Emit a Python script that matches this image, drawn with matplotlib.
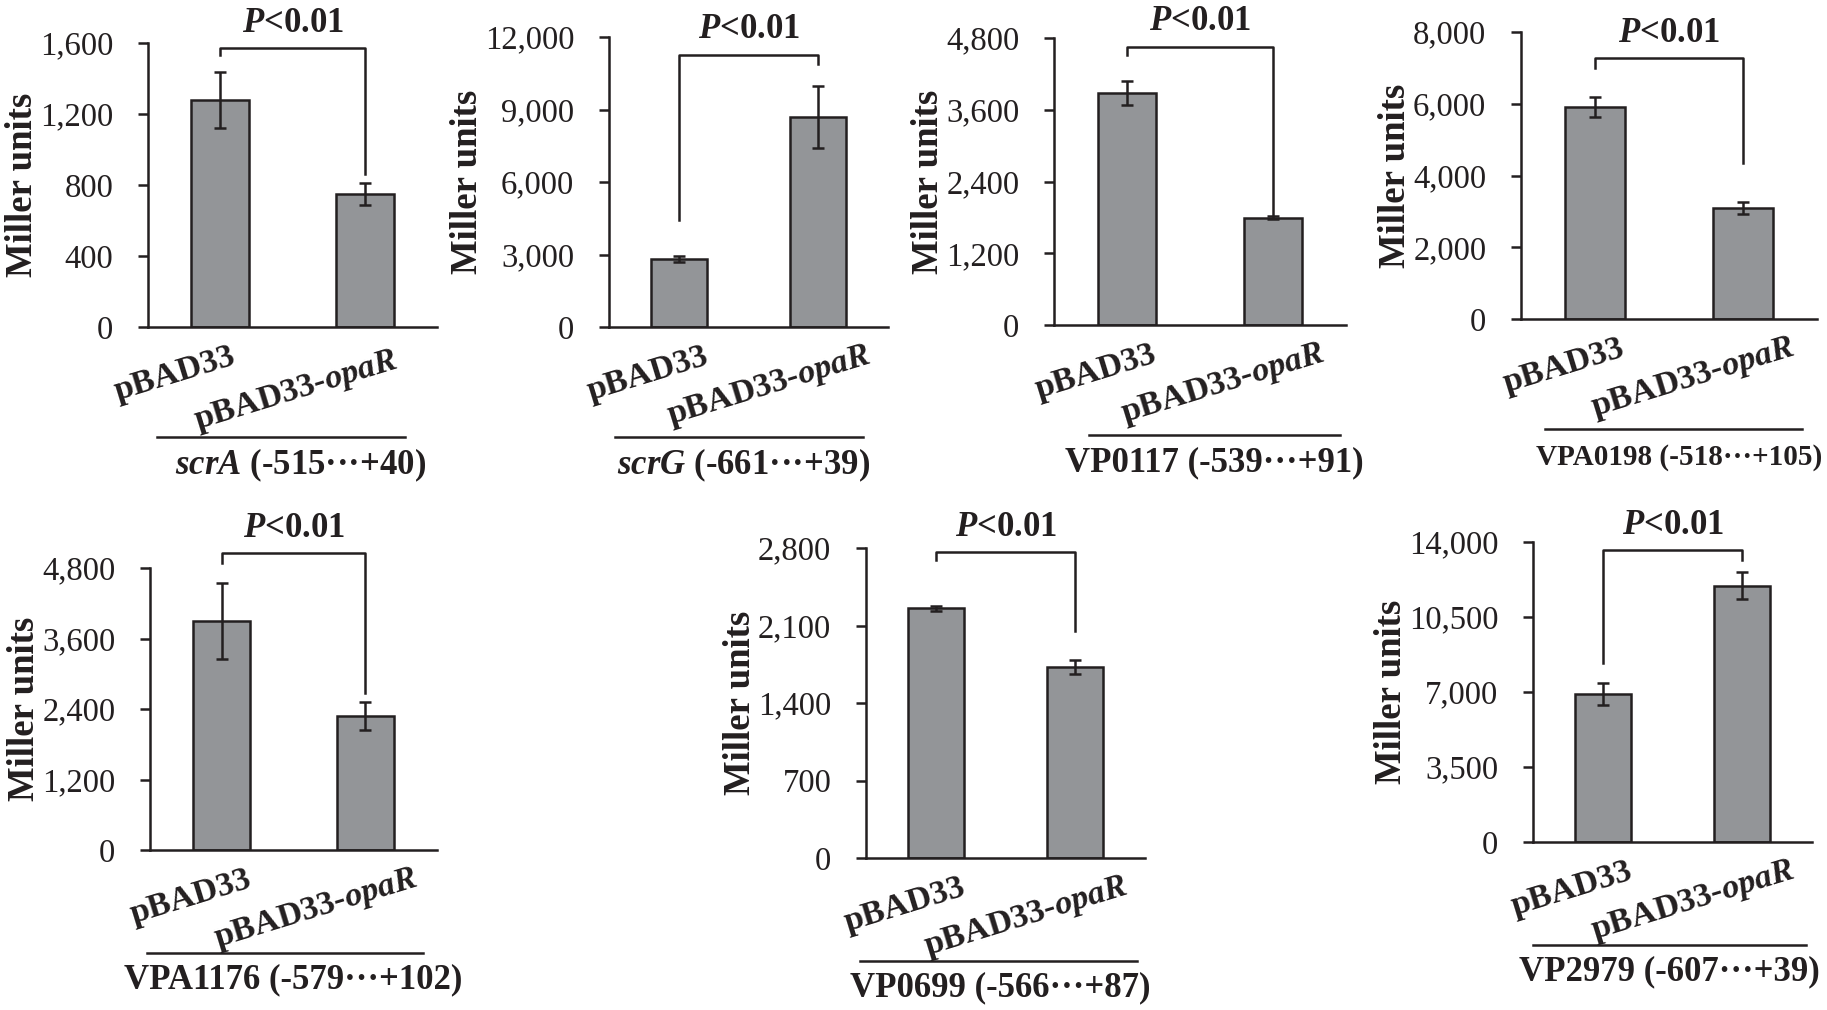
import numpy as np
import matplotlib.pyplot as plt
from matplotlib.ticker import FuncFormatter, MultipleLocator
from matplotlib.transforms import ScaledTranslation

plt.rcParams['font.family'] = ['Liberation Serif', 'DejaVu Serif']
plt.rcParams['mathtext.fontset'] = 'custom'
plt.rcParams['mathtext.it'] = 'Liberation Serif:italic:bold'
plt.rcParams['mathtext.rm'] = 'Liberation Serif:bold'
plt.rcParams['mathtext.bf'] = 'Liberation Serif:bold'

# ---- data ----
strains = ['pBAD33', r'pBAD33-$\mathit{opaR}$']
promoters = [r'$\mathit{scrA}$ (-515···+40)',
             r'$\mathit{scrG}$ (-661···+39)',
             'VP0117 (-539···+91)',
             'VPA0198 (-518···+105)',
             'VPA1176 (-579···+102)',
             'VP0699 (-566···+87)',
             'VP2979 (-607···+39)']

scrA_mean = [1279, 749]
scrA_err = [160, 60]
scrG_mean = [2814, 8690]
scrG_err = [130, 1270]
vp0117_mean = [3880, 1790]
vp0117_err = [200, 25]
vpa0198_mean = [5909, 3094]
vpa0198_err = [280, 170]
vpa1176_mean = [3898, 2281]
vpa1176_err = [650, 230]
vp0699_mean = [2254, 1727]
vp0699_err = [25, 65]
vp2979_mean = [6907, 11947]
vp2979_err = [530, 630]

y_max = [1600, 12000, 4800, 8000, 4800, 2800, 14000]
y_step = [400, 3000, 1200, 2000, 1200, 700, 3500]
p_text = r'$\mathit{P}$<0.01'

means = [scrA_mean, scrG_mean, vp0117_mean, vpa0198_mean,
         vpa1176_mean, vp0699_mean, vp2979_mean]
errs = [scrA_err, scrG_err, vp0117_err, vpa0198_err,
        vpa1176_err, vp0699_err, vp2979_err]

# ---- layout (pixels in the 1827x1010 canvas) ----
W, H = 1827, 1010
# left, top, right, bottom(zero line)
rects = [(148, 43, 437, 327), (609, 37, 888, 327), (1054, 38, 1346, 325),
         (1521, 32, 1817, 319), (150, 568, 437, 850), (866, 548, 1145, 858),
         (1533, 542, 1812, 842)]
# bracket: top, left end, right end (axes fraction)
brackets = [(0.982, 0.958, 0.539), (0.938, 0.369, 0.907), (0.969, 0.941, 0.382),
            (0.909, 0.875, 0.544), (1.053, 1.018, 0.557), (0.987, 0.961, 0.731),
            (0.973, 0.597, 0.940)]
# underline extent (axes fraction), promoter label shift (px) and size
underlines = [(0.03, 0.89), (0.02, 0.91), (0.12, 0.98), (0.08, 0.95),
              (-0.01, 0.95), (-0.02, 0.97), (0.0, 0.98)]
label_shift = [20, 5, 0, 6, 8, 2, 0]
label_size = [25, 25, 25, 21, 25, 25, 25]
# vertical drop (inches below zero line) of underline / label, per row
under_drop = [1.10, 1.03]
label_drop = [1.38, 1.30]
# rotated category label anchors (inches from bar centre / axis), per panel
tick_dx = [[0.10, 0.27]] + [[0.24, 0.46]] * 6
tick_dy = [[-0.14, -0.18]] + [[-0.14, -0.13]] * 6

INK = '#231f20'
BAR = '#939598'
LW = 1.8

fig = plt.figure(figsize=(W / 100, H / 100), dpi=100)
fig.patch.set_facecolor('white')

x = np.arange(2)

for k in range(len(means)):
    l, t, r, b = rects[k]
    row = 0 if k < 4 else 1
    ax = fig.add_axes([l / W, 1 - b / H, (r - l) / W, (b - t) / H])
    ax.bar(x, means[k], width=0.4, color=BAR, edgecolor=INK, linewidth=LW, zorder=2)
    ax.errorbar(x, means[k], yerr=errs[k], fmt='none', ecolor=INK,
                elinewidth=LW, capsize=4.5, capthick=LW, zorder=3)
    ax.set_xlim(-0.5, 1.5)
    ax.set_ylim(0, y_max[k])
    for s in ['top', 'right']:
        ax.spines[s].set_visible(False)
    for s in ['left', 'bottom']:
        ax.spines[s].set_linewidth(LW)
        ax.spines[s].set_color(INK)
    ax.set_xticks([])
    ax.yaxis.set_major_locator(MultipleLocator(y_step[k]))
    ax.yaxis.set_major_formatter(FuncFormatter(lambda v, p: f'{v:,.0f}'))
    ax.tick_params(axis='y', length=7, width=LW, pad=18, labelsize=23.5,
                   colors=INK)
    ax.set_ylabel('Miller units', fontsize=26.5, fontweight='bold', color=INK,
                  labelpad=0)

    # rotated category labels
    xt = ax.get_xaxis_transform()
    for i, name in enumerate(strains):
        off = ScaledTranslation(tick_dx[k][i], tick_dy[k][i], fig.dpi_scale_trans)
        ax.text(x[i], 0, name, transform=xt + off, rotation=17,
                rotation_mode='anchor', ha='right', va='top',
                fontsize=24.5, fontweight='bold', color=INK)

    # significance bracket
    top, le, re = brackets[k]
    ax.plot([0, 0, 1, 1], [le, top, top, re], transform=xt, clip_on=False,
            color=INK, lw=LW)
    ax.annotate(p_text, xy=(0.5, top), xycoords=xt, xytext=(0, 18),
                textcoords='offset points', ha='center', va='center',
                fontsize=25, fontweight='bold', color=INK)

    # promoter underline + name
    u0, u1 = underlines[k]
    ta = ax.transAxes
    ax.plot([u0, u1], [0, 0],
            transform=ta + ScaledTranslation(0, -under_drop[row], fig.dpi_scale_trans),
            clip_on=False, color=INK, lw=LW)
    ax.text((u0 + u1) / 2, 0, promoters[k],
            transform=ta + ScaledTranslation(label_shift[k] / 100, -label_drop[row],
                                             fig.dpi_scale_trans),
            ha='center', va='center', fontsize=label_size[k], fontweight='bold', color=INK)

fig.savefig('out.png', dpi=100, facecolor='white')
